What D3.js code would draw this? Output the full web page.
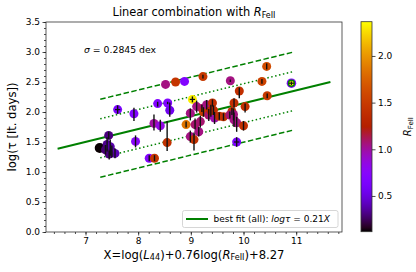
<!DOCTYPE html>
<html>
<head>
<meta charset="utf-8">
<script src="https://cdn.jsdelivr.net/npm/d3@7"></script>
<style>
  body { margin: 0; background: #fff; }
  text { font-family: "DejaVu Sans", sans-serif; }
</style>
</head>
<body>
<svg id="chart" width="416" height="272"></svg>
<script>
// data
let xVals = [7.27, 7.44, 7.41, 7.38, 7.47, 7.50, 7.56, 7.45,
    7.61, 7.92, 7.95, 8.21, 8.31, 8.37, 8.30, 8.42, 8.55, 8.52, 8.71, 8.88, 9.23,
    8.56, 8.60, 9.03,
    8.91, 8.99, 9.06, 9.08, 8.99, 9.15, 9.18, 9.11, 9.21, 9.24, 9.30, 9.34, 9.41,
    9.43, 9.45, 9.38, 9.54, 9.62, 9.78, 9.74, 9.82, 9.82, 9.87, 9.92, 10.03, 10.00,
    9.87, 9.75, 10.44, 10.35, 10.45, 9.81];
let yVals = [1.40, 1.61, 1.46, 1.37, 1.42, 1.34, 1.31, 1.30,
    2.04, 1.97, 1.51, 1.23, 1.23, 2.14, 1.81, 1.77, 1.49, 2.46, 2.50, 2.51, 2.59,
    2.15, 2.03, 2.21,
    1.79, 1.59, 1.54, 1.79, 1.98, 1.67, 1.84, 2.09, 2.06, 2.00, 2.12, 1.95, 2.15,
    2.03, 1.90, 2.02, 1.93, 1.92, 2.01, 1.95, 2.15, 1.87, 1.82, 2.35, 2.09, 1.77,
    1.50, 2.52, 2.76, 2.51, 2.27, 1.96];
let rFe = [0.12, 0.30, 0.33, 0.28, 0.38, 0.35, 0.40, 0.30,
    0.65, 0.70, 0.75, 0.72, 1.45, 0.70, 1.00, 0.85, 1.42, 1.05, 1.45, 0.70, 1.48,
    0.70, 0.55, 2.32,
    1.85, 1.05, 1.42, 1.08, 1.05, 1.05, 1.08, 1.05, 1.10, 1.50, 1.05, 1.08, 1.40,
    1.40, 0.98, 1.30, 1.38, 1.42, 1.42, 1.08, 1.40, 1.05, 1.05, 1.40, 1.42, 1.42,
    0.65, 1.05, 1.62, 1.55, 1.48, 1.05];
let errLo = [0, 0.06, 0.12, 0.08, 0.15, 0.10, 0.08, 0.09,
    0.07, 0.12, 0.10, 0.05, 0.05, 0.05, 0.12, 0.10, 0.14, 0, 0, 0, 0.03,
    0.02, 0.11, 0.05,
    0.05, 0.10, 0.18, 0.08, 0.12, 0.08, 0.10, 0.10, 0.06, 0.08, 0.08, 0.10, 0.06,
    0.08, 0.10, 0.10, 0.06, 0.06, 0.06, 0.06, 0.08, 0.12, 0.15, 0.12, 0.10, 0.08,
    0.08, 0.02, 0.05, 0.04, 0.04, 0.10];
let errHi = [0, 0.06, 0.12, 0.08, 0.12, 0.10, 0.08, 0.06,
    0.07, 0.10, 0.10, 0.05, 0.05, 0.03, 0.15, 0.10, 0.36, 0, 0, 0, 0.03,
    0.02, 0.13, 0.05,
    0.05, 0.10, 0.12, 0.10, 0.08, 0.08, 0.10, 0.10, 0.06, 0.08, 0.08, 0.10, 0.06,
    0.08, 0.10, 0.10, 0.06, 0.06, 0.06, 0.06, 0.08, 0.12, 0.10, 0.06, 0.05, 0.08,
    0.08, 0.02, 0.05, 0.04, 0.04, 0.10];

// the ringed point at the right end
let ringPoint = {x: 10.91, y: 2.48, rOuter: 0.70, rInner: 2.33};

let fitSlope = 0.2146;
let fitRange = [6.47, 11.65];
let bandRange = [7.28, 10.93];
let dottedOffset = 0.325;
let dashedOffset = 0.65;

let xTicks = [7, 8, 9, 10, 11];
let yTicks = [0.0, 0.5, 1.0, 1.5, 2.0, 2.5, 3.0, 3.5];
let cbTicks = [0.5, 1.0, 1.5, 2.0];
let cbRange = [0.117, 2.367];

let svg = d3.select("#chart");

let margin = {left: 46, right: 342, top: 22, bottom: 232};
let x = d3.scaleLinear().domain([6.25, 11.87]).range([margin.left, margin.right]);
let y = d3.scaleLinear().domain([0, 3.5]).range([margin.bottom, margin.top]);

// matplotlib "gnuplot" colormap
function gnuplot(t) {
    t = Math.max(0, Math.min(1, t));
    let r = Math.sqrt(t);
    let g = t * t * t;
    let b = Math.max(0, Math.min(1, Math.sin(2 * Math.PI * t)));
    return d3.rgb(r * 255, g * 255, b * 255).toString();
}
let norm = d3.scaleLinear().domain(cbRange).range([0, 1]);
let color = v => gnuplot(norm(v));

// clip for the plot area
svg.append("clipPath").attr("id", "plotclip")
    .append("rect")
    .attr("x", margin.left).attr("y", margin.top)
    .attr("width", margin.right - margin.left)
    .attr("height", margin.bottom - margin.top);

let plot = svg.append("g").attr("clip-path", "url(#plotclip)");

// fit and band lines
let line = d3.line().x(d => x(d[0])).y(d => y(d[1]));
let fitPts = fitRange.map(v => [v, fitSlope * v]);
plot.append("path").attr("d", line(fitPts))
    .attr("stroke", "#008000").attr("stroke-width", 2).attr("fill", "none");

[dottedOffset, -dottedOffset].forEach(off => {
    plot.append("path").attr("d", line(bandRange.map(v => [v, fitSlope * v + off])))
        .attr("stroke", "#008000").attr("stroke-width", 1.5).attr("fill", "none")
        .attr("stroke-dasharray", "1.5,2.5");
});
[dashedOffset, -dashedOffset].forEach(off => {
    plot.append("path").attr("d", line(bandRange.map(v => [v, fitSlope * v + off])))
        .attr("stroke", "#008000").attr("stroke-width", 1.5).attr("fill", "none")
        .attr("stroke-dasharray", "5.5,2.5");
});

// points
let pts = xVals.map((v, i) => ({x: v, y: yVals[i], r: rFe[i], lo: errLo[i], hi: errHi[i]}));

plot.selectAll("circle.pt").data(pts).enter().append("circle")
    .attr("class", "pt")
    .attr("cx", d => x(d.x)).attr("cy", d => y(d.y))
    .attr("r", d => d.r < 0.2 ? 5 : 4.5)
    .attr("fill", d => color(d.r));

plot.append("circle")
    .attr("cx", x(ringPoint.x)).attr("cy", y(ringPoint.y)).attr("r", 4.8)
    .attr("fill", color(ringPoint.rOuter));
plot.append("circle")
    .attr("cx", x(ringPoint.x)).attr("cy", y(ringPoint.y)).attr("r", 3)
    .attr("fill", color(ringPoint.rInner)).attr("stroke", "#008000").attr("stroke-width", 1.4);

// error bars
plot.selectAll("line.err").data(pts.filter(d => d.lo + d.hi > 0)).enter().append("line")
    .attr("class", "err")
    .attr("x1", d => x(d.x)).attr("x2", d => x(d.x))
    .attr("y1", d => y(d.y - d.lo)).attr("y2", d => y(d.y + d.hi))
    .attr("stroke", "#111").attr("stroke-width", 1.4);

// small horizontal bars
let xerrPts = pts.filter((d, i) => [8, 23, 50].includes(i)).concat([{x: ringPoint.x, y: ringPoint.y}]);
plot.selectAll("line.xerr").data(xerrPts).enter().append("line")
    .attr("class", "xerr")
    .attr("x1", d => x(d.x - 0.05)).attr("x2", d => x(d.x + 0.05))
    .attr("y1", d => y(d.y)).attr("y2", d => y(d.y))
    .attr("stroke", "#111").attr("stroke-width", 1.2);
plot.append("line")
    .attr("x1", x(ringPoint.x)).attr("x2", x(ringPoint.x))
    .attr("y1", y(ringPoint.y - 0.03)).attr("y2", y(ringPoint.y + 0.03))
    .attr("stroke", "#111").attr("stroke-width", 1.2);

// axes
svg.append("g").attr("transform", `translate(0,${margin.bottom})`)
    .call(d3.axisBottom(x).tickValues(xTicks).tickFormat(d3.format("d")).tickSizeOuter(0).tickSize(3.5).tickPadding(2.5));
svg.append("g").attr("transform", `translate(${margin.left},0)`)
    .call(d3.axisLeft(y).tickValues(yTicks).tickFormat(d3.format(".1f")).tickSizeOuter(0).tickSize(3.5).tickPadding(2.5));

svg.append("g").attr("transform", `translate(0,${margin.bottom})`)
    .call(d3.axisBottom(x).tickValues(d3.range(6.4, 11.81, 0.2)).tickFormat("").tickSizeOuter(0).tickSize(2));
svg.append("g").attr("transform", `translate(${margin.left},0)`)
    .call(d3.axisLeft(y).tickValues(d3.range(0, 3.51, 0.1)).tickFormat("").tickSizeOuter(0).tickSize(2));

svg.selectAll(".domain").remove();
svg.selectAll(".tick line").attr("stroke", "#222").attr("stroke-width", 0.8);
svg.selectAll(".tick text").attr("font-size", 9).attr("fill", "#000")
    .style("font-family", "DejaVu Sans");

svg.append("rect")
    .attr("x", margin.left).attr("y", margin.top)
    .attr("width", margin.right - margin.left).attr("height", margin.bottom - margin.top)
    .attr("fill", "none").attr("stroke", "#333").attr("stroke-width", 0.8);

// labels
let title = svg.append("text").attr("x", (margin.left + margin.right) / 2).attr("y", 16)
    .attr("text-anchor", "middle").attr("font-size", 11.4);
title.append("tspan").text("Linear combination with ");
title.append("tspan").attr("font-style", "italic").text("R");
title.append("tspan").attr("font-size", 8).attr("dy", 1.8).text("FeII");

let xl = svg.append("text").attr("x", (margin.left + margin.right) / 2).attr("y", 258.5)
    .attr("text-anchor", "middle").attr("font-size", 11.6);
xl.append("tspan").text("X=log(");
xl.append("tspan").attr("font-style", "italic").text("L");
xl.append("tspan").attr("font-size", 8.1).attr("dy", 1.8).text("44");
xl.append("tspan").attr("dy", -1.8).text(")+0.76log(");
xl.append("tspan").attr("font-style", "italic").text("R");
xl.append("tspan").attr("font-size", 8.1).attr("dy", 1.8).text("FeII");
xl.append("tspan").attr("dy", -1.8).text(")+8.27");

svg.append("text")
    .attr("transform", `translate(16,${(margin.top + margin.bottom) / 2}) rotate(-90)`)
    .attr("text-anchor", "middle").attr("font-size", 11.6)
    .text("log(τ [lt. days])");

let sig = svg.append("text").attr("x", 84).attr("y", 52.5).attr("font-size", 9.3);
sig.append("tspan").attr("font-style", "italic").text("σ");
sig.append("tspan").text(" = 0.2845 dex");

// legend
let lg = svg.append("g");
lg.append("rect").attr("x", 182.5).attr("y", 210.5).attr("width", 155.5).attr("height", 17)
    .attr("rx", 2).attr("fill", "#fff").attr("fill-opacity", 0.8)
    .attr("stroke", "#ccc").attr("stroke-width", 0.8);
lg.append("line").attr("x1", 186).attr("x2", 208).attr("y1", 219).attr("y2", 219)
    .attr("stroke", "#008000").attr("stroke-width", 2);
let lt = lg.append("text").attr("x", 213.5).attr("y", 222.3).attr("font-size", 9);
lt.append("tspan").text("best fit (all): ");
lt.append("tspan").attr("font-style", "italic").text("logτ");
lt.append("tspan").text(" = 0.21");
lt.append("tspan").attr("font-style", "italic").text("X");

// colorbar
let cbX = 361, cbW = 11, cbTop = 21.7, cbBot = 231.7;
let grad = svg.append("defs").append("linearGradient").attr("id", "cbgrad")
    .attr("x1", 0).attr("x2", 0).attr("y1", 1).attr("y2", 0);
d3.range(0, 1.0001, 0.02).forEach(t => {
    grad.append("stop").attr("offset", t).attr("stop-color", gnuplot(t));
});
svg.append("rect").attr("x", cbX).attr("y", cbTop).attr("width", cbW).attr("height", cbBot - cbTop)
    .attr("fill", "url(#cbgrad)").attr("stroke", "#333").attr("stroke-width", 0.8);

let cbScale = d3.scaleLinear().domain(cbRange).range([cbBot, cbTop]);
let cbAxis = svg.append("g").attr("transform", `translate(${cbX + cbW},0)`)
    .call(d3.axisRight(cbScale).tickValues(cbTicks).tickFormat(d3.format(".1f")).tickSize(3.5).tickPadding(2.5));
cbAxis.select(".domain").remove();
cbAxis.selectAll(".tick line").attr("stroke", "#222").attr("stroke-width", 0.8);
cbAxis.selectAll(".tick text").attr("font-size", 9).attr("fill", "#000");

let cbl = svg.append("text")
    .attr("transform", `translate(411,${(cbTop + cbBot) / 2}) rotate(-90)`)
    .attr("text-anchor", "middle").attr("font-size", 10);
cbl.append("tspan").attr("font-style", "italic").text("R");
cbl.append("tspan").attr("font-size", 7).attr("dy", 1.5).text("FeII");
</script>
</body>
</html>
